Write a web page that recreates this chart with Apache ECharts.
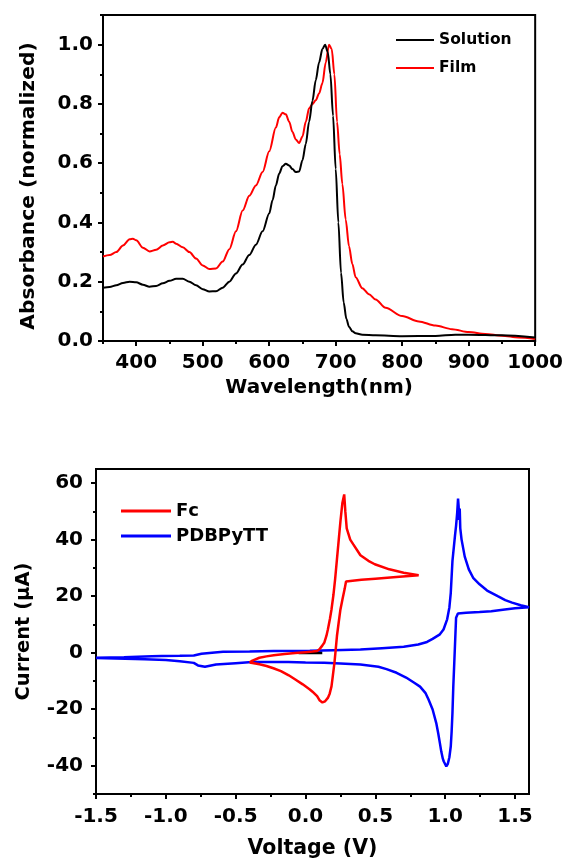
<!DOCTYPE html>
<html>
<head>
<meta charset="utf-8">
<script src="https://cdn.jsdelivr.net/npm/echarts@6/dist/echarts.min.js"></script>
<style>
html,body{margin:0;padding:0;background:#fff;}
#chart{width:566px;height:863px;}
</style>
</head>
<body>
<div id="chart"></div>
<script>
// ---------- Top panel: UV-vis absorption ----------
var solutionWl  = [350,360,370,380,390,400,410,420,430,440,450,460,470,480,490,500,510,520,530,540,550,560,570,580,590,600,605,610,615,620,625,630,635,640,645,650,655,660,665,670,675,680,684,688,692,696,700,704,708,712,716,720,725,730,740,760,800,850,880,900,950,1000];
var solutionAbs = [0.180,0.182,0.188,0.196,0.200,0.198,0.190,0.183,0.186,0.195,0.203,0.210,0.210,0.200,0.188,0.175,0.167,0.168,0.180,0.200,0.228,0.258,0.290,0.325,0.370,0.430,0.475,0.525,0.565,0.590,0.598,0.592,0.580,0.570,0.572,0.610,0.665,0.740,0.810,0.880,0.940,0.985,1.000,0.975,0.900,0.760,0.580,0.400,0.230,0.130,0.075,0.048,0.033,0.026,0.021,0.019,0.016,0.017,0.021,0.021,0.019,0.012];
var filmWl  = [350,360,370,380,390,395,400,410,420,430,440,450,455,460,470,480,490,500,510,520,530,540,550,560,570,580,590,600,610,615,620,625,630,635,640,645,650,655,660,665,670,675,680,685,690,694,698,702,706,710,715,720,725,730,740,750,760,775,800,825,850,875,900,925,950,975,1000];
var filmAbs = [0.285,0.290,0.300,0.322,0.343,0.345,0.340,0.315,0.302,0.308,0.322,0.333,0.335,0.328,0.316,0.300,0.278,0.255,0.243,0.245,0.268,0.310,0.370,0.440,0.490,0.525,0.570,0.640,0.720,0.755,0.770,0.765,0.740,0.705,0.680,0.668,0.690,0.740,0.785,0.800,0.812,0.835,0.870,0.940,1.000,0.985,0.900,0.740,0.630,0.530,0.410,0.320,0.260,0.215,0.178,0.158,0.140,0.112,0.084,0.066,0.052,0.040,0.030,0.024,0.018,0.012,0.007];
var wlMajorTicks = [400,500,600,700,800,900,1000];
var wlMinorTicks = [350,450,550,650,750,850,950];
var absMajorTicks = [0,0.2,0.4,0.6,0.8,1.0];
var absMinorTicks = [0.1,0.3,0.5,0.7,0.9,1.1];

// ---------- Bottom panel: cyclic voltammetry ----------
var fcV = [-0.40,-0.38,-0.33,-0.28,-0.228,-0.15,-0.073,0.00,0.05,0.083,0.10,0.12,0.134,0.15,0.16,0.175,0.186,0.20,0.212,0.225,0.238,0.25,0.264,0.277,0.285,0.295,0.32,0.341,0.393,0.45,0.496,0.60,0.703,0.81,0.65,0.50,0.40,0.29,0.28,0.265,0.25,0.237,0.225,0.215,0.207,0.196,0.186,0.173,0.16,0.14,0.121,0.10,0.083,0.05,0.031,-0.02,-0.073,-0.12,-0.176,-0.23,-0.279,-0.33,-0.40];
var fcI = [-3.5,-2.8,-1.8,-1.3,-0.9,-0.5,-0.1,0.2,0.4,0.6,1.2,2.5,3.5,6.0,8.2,12.0,15.3,20.5,26.0,33.0,40.0,46.5,53.0,56.0,50.0,44.0,40.0,38.4,34.5,32.5,31.3,29.5,28.3,27.4,26.8,26.2,25.8,25.2,22.5,19.0,15.3,10.5,5.9,0.5,-3.6,-8.0,-11.9,-14.5,-16.0,-17.2,-17.6,-16.8,-15.4,-13.8,-13.0,-11.2,-9.5,-8.0,-6.5,-5.5,-4.7,-4.1,-3.5];
var pdbV = [-1.50,-1.30,-1.10,-1.03,-0.90,-0.80,-0.745,-0.65,-0.59,-0.40,-0.228,0.031,0.20,0.393,0.548,0.703,0.807,0.87,0.91,0.962,0.988,1.014,1.03,1.04,1.052,1.07,1.078,1.086,1.092,1.096,1.100,1.104,1.108,1.117,1.14,1.169,1.20,1.246,1.30,1.376,1.43,1.479,1.54,1.60,1.50,1.427,1.33,1.246,1.15,1.091,1.078,1.072,1.065,1.058,1.052,1.046,1.04,1.03,1.019,1.008,1.00,0.99,0.983,0.972,0.962,0.95,0.936,0.91,0.88,0.858,0.82,0.781,0.72,0.652,0.58,0.522,0.45,0.393,0.25,0.134,0.00,-0.124,-0.25,-0.383,-0.50,-0.641,-0.72,-0.77,-0.80,-0.90,-1.00,-1.15,-1.29,-1.50];
var pdbI = [-1.8,-1.6,-1.3,-1.2,-1.1,-1.0,-0.4,0.1,0.3,0.4,0.6,0.7,0.9,1.1,1.6,2.1,2.9,3.8,4.9,6.5,8.2,11.8,16.0,21.2,32.5,41.3,45.0,49.6,54.5,52.0,47.0,51.0,44.0,40.1,34.0,29.5,26.5,24.2,22.0,20.0,18.6,17.7,16.8,16.1,15.7,15.3,14.7,14.4,14.1,13.9,12.4,5.0,-3.6,-12.0,-21.3,-28.0,-33.1,-37.0,-39.3,-40.2,-39.8,-38.5,-37.5,-35.0,-32.0,-28.5,-24.9,-20.1,-16.5,-14.2,-12.0,-10.7,-8.8,-7.1,-5.8,-5.0,-4.5,-4.2,-3.8,-3.6,-3.5,-3.3,-3.3,-3.3,-3.7,-4.2,-5.0,-4.5,-3.6,-3.0,-2.6,-2.3,-2.1,-1.9];
var startV = [-0.05,0.12];
var startI = [0,0];
var vMajorTicks = [-1.5,-1.0,-0.5,0.0,0.5,1.0,1.5];
var vMinorTicks = [-1.25,-0.75,-0.25,0.25,0.75,1.25];
var iMajorTicks = [-40,-20,0,20,40,60];
var iMinorTicks = [-50,-30,-10,10,30,50];

function zip(a,b){return a.map(function(x,i){return [x,b[i]];});}

var FONT = 'DejaVu Sans';
var BLACK = '#000';

function mainAxis(gridIndex, min, max, ticks, fmt, labelSize, margin, name, nameGap, nameSize, extra){
  var ax = {
    type:'value', gridIndex:gridIndex, min:min, max:max,
    axisLine:{show:true, onZero:false, lineStyle:{color:BLACK, width:2}},
    axisTick:{show:true, inside:false, length:5, customValues:ticks, lineStyle:{color:BLACK, width:2}},
    axisLabel:{show:true, customValues:ticks, formatter:fmt, fontSize:labelSize, fontWeight:'bold', fontFamily:FONT, color:BLACK, margin:margin},
    splitLine:{show:false},
    name:name, nameLocation:'middle', nameGap:nameGap,
    nameTextStyle:{fontSize:nameSize, fontWeight:'bold', fontFamily:FONT, color:BLACK}
  };
  if (extra) for (var k in extra) ax[k] = extra[k];
  return ax;
}
function minorAxis(gridIndex, min, max, ticks, pos){
  return {
    type:'value', gridIndex:gridIndex, min:min, max:max, position:pos,
    axisLine:{show:false, onZero:false},
    axisTick:{show:true, inside:false, length:3, customValues:ticks, lineStyle:{color:BLACK, width:2}},
    axisLabel:{show:false},
    splitLine:{show:false}
  };
}

var chart = echarts.init(document.getElementById('chart'), null, {renderer:'canvas'});
var option = {
  animation:false,
  backgroundColor:'#fff',
  textStyle:{fontFamily:FONT},
  grid:[
    {left:103, right:29, top:15, height:326, show:true, borderColor:BLACK, borderWidth:2, backgroundColor:'transparent'},
    {left:96, right:37, top:469, height:325, show:true, borderColor:BLACK, borderWidth:2, backgroundColor:'transparent'}
  ],
  xAxis:[
    mainAxis(0, 350, 1000, wlMajorTicks, function(v){return String(v);}, 20, 12, 'Wavelength(nm)', 37, 20, {position:'bottom'}),
    minorAxis(0, 350, 1000, wlMinorTicks, 'bottom'),
    mainAxis(1, -1.5, 1.6, vMajorTicks, function(v){return v.toFixed(1);}, 20, 13, 'Voltage (V)', 44, 20.5, {position:'bottom'}),
    minorAxis(1, -1.5, 1.6, vMinorTicks, 'bottom')
  ],
  yAxis:[
    mainAxis(0, 0, 1.1, absMajorTicks, function(v){return v.toFixed(1);}, 20, 10, 'Absorbance (normalized)', 64, 20.3, {position:'left'}),
    minorAxis(0, 0, 1.1, absMinorTicks, 'left'),
    mainAxis(1, -50, 65, iMajorTicks, function(v){return String(Math.round(v));}, 20, 13, 'Current (\u00b5A)', 62, 19.5, {position:'left'}),
    minorAxis(1, -50, 65, iMinorTicks, 'left')
  ],
  legend:[
    {data:['Solution','Film'], orient:'vertical', left:396, top:32, padding:0, itemWidth:38, itemHeight:2, itemGap:12, icon:'rect',
     textStyle:{fontSize:15.5, fontWeight:'bold', fontFamily:FONT, color:BLACK}},
    {data:['Fc','PDBPyTT'], orient:'vertical', left:121, top:502, padding:0, itemWidth:50, itemHeight:3, itemGap:7, icon:'rect',
     textStyle:{fontSize:18, fontWeight:'bold', fontFamily:FONT, color:BLACK}}
  ],
  series:[
    {name:'Solution', type:'line', xAxisIndex:0, yAxisIndex:0, data:zip(solutionWl, solutionAbs), showSymbol:false, symbol:'none', smooth:0.3, smoothMonotone:'x',
     lineStyle:{color:'#000', width:2}, itemStyle:{color:'#000'}, z:3},
    {name:'Film', type:'line', xAxisIndex:0, yAxisIndex:0, data:zip(filmWl, filmAbs), showSymbol:false, symbol:'none', smooth:0.3, smoothMonotone:'x',
     lineStyle:{color:'#ff0000', width:2}, itemStyle:{color:'#ff0000'}, z:2},
    {name:'start', type:'line', xAxisIndex:2, yAxisIndex:2, data:zip(startV, startI), showSymbol:false, symbol:'none',
     lineStyle:{color:'#000', width:3}, itemStyle:{color:'#000'}, z:1},
    {name:'Fc', type:'line', xAxisIndex:2, yAxisIndex:2, data:zip(fcV, fcI), showSymbol:false, symbol:'none',
     lineStyle:{color:'#ff0000', width:2.5}, itemStyle:{color:'#ff0000'}, z:3},
    {name:'PDBPyTT', type:'line', xAxisIndex:2, yAxisIndex:2, data:zip(pdbV, pdbI), showSymbol:false, symbol:'none',
     lineStyle:{color:'#0000ff', width:2.5}, itemStyle:{color:'#0000ff'}, z:2}
  ]
};
option.yAxis[0].nameTextStyle.padding = [0, 16, 0, 0];
chart.setOption(option);
</script>
</body>
</html>
